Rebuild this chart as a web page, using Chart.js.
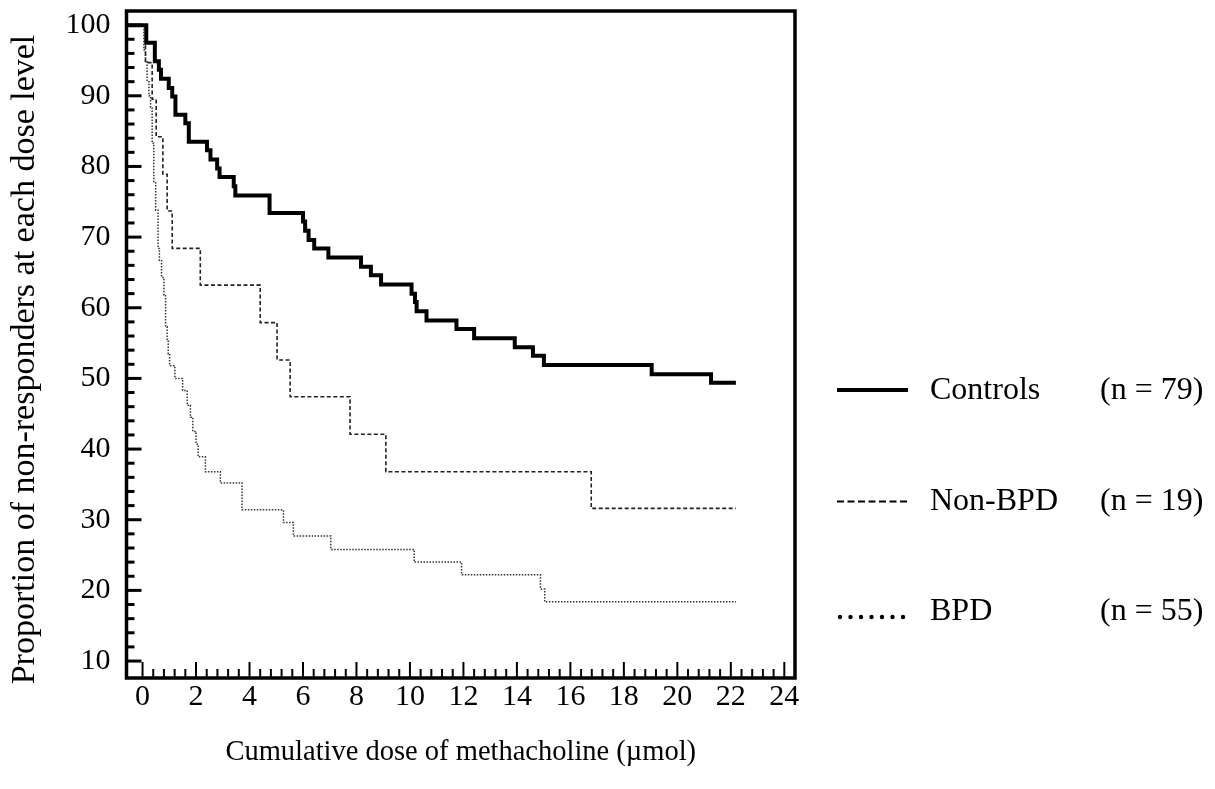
<!DOCTYPE html>
<html>
<head>
<meta charset="utf-8">
<script src="https://cdn.jsdelivr.net/npm/chart.js@4.4.1/dist/chart.umd.min.js"></script>
<style>
  body { margin: 0; background: #fff; }
  #wrap { width: 1215px; height: 789px; }
</style>
</head>
<body>
<div id="wrap"><canvas id="km"></canvas></div>
<script>
  // cumulative dose (umol) at each step, and % non-responders after the step
  const controlsDose = [-0.6, 0.14, 0.46, 0.61, 0.69, 0.98, 1.11, 1.23, 1.60, 1.73, 2.41, 2.54, 2.79, 2.88, 3.41, 3.47, 4.75, 6.00, 6.08, 6.21, 6.42, 6.95, 8.17, 8.54, 8.92, 10.06, 10.19, 10.25, 10.62, 11.74, 12.40, 13.92, 14.60, 15.01, 19.04, 21.26, 22.19];
  const controlsPct = [100, 97.5, 94.9, 93.7, 92.4, 91.1, 89.9, 87.3, 86.1, 83.5, 82.3, 81.0, 79.7, 78.5, 77.2, 75.9, 73.4, 72.2, 70.9, 69.6, 68.4, 67.1, 65.8, 64.6, 63.3, 62.0, 60.8, 59.5, 58.2, 57.0, 55.7, 54.4, 53.2, 51.9, 50.6, 49.4, 49.4];

  const nonBpdDose = [-0.6, 0.11, 0.36, 0.51, 0.76, 0.92, 1.11, 2.16, 4.40, 5.03, 5.52, 7.76, 9.10, 16.78, 22.19];
  const nonBpdPct = [100, 94.7, 89.5, 84.2, 78.9, 73.7, 68.4, 63.2, 57.9, 52.6, 47.4, 42.1, 36.8, 31.6, 31.6];

  const bpdDose = [-0.6, 0.05, 0.11, 0.17, 0.24, 0.30, 0.36, 0.42, 0.49, 0.58, 0.63, 0.71, 0.80, 0.86, 0.92, 0.96, 1.01, 1.21, 1.50, 1.67, 1.79, 1.88, 2.00, 2.08, 2.35, 2.91, 3.72, 5.27, 5.64, 7.04, 10.16, 11.93, 14.88, 15.04, 22.19];
  const bpdPct = [100, 96.5, 94.8, 92.0, 90.0, 88.4, 83.3, 77.7, 73.8, 68.4, 66.7, 64.3, 61.8, 57.3, 55.4, 53.5, 51.8, 50.0, 48.3, 46.2, 44.5, 42.5, 40.7, 38.9, 36.8, 35.2, 31.4, 29.6, 27.7, 25.8, 24.0, 22.2, 20.2, 18.4, 18.4];

  const xTickValues = [0, 2, 4, 6, 8, 10, 12, 14, 16, 18, 20, 22, 24];
  const yTickValues = [10, 20, 30, 40, 50, 60, 70, 80, 90, 100];

  const legendNames = ['Controls', 'Non-BPD', 'BPD'];
  const legendCounts = ['(n = 79)', '(n = 19)', '(n = 55)'];

  const xTitle = 'Cumulative dose of methacholine (\u00b5mol)';
  const yTitle = 'Proportion of non-responders at each dose level';

  const serif = "'Liberation Serif', 'Times New Roman', serif";

  const toPoints = (xs, ys) => xs.map((x, i) => ({ x: x, y: ys[i] }));

  // frame, inward ticks, y title and legend
  const framePlugin = {
    id: 'frame',
    afterDatasetsDraw(chart) {
      const ctx = chart.ctx;
      const area = chart.chartArea;
      const xs = chart.scales.x;
      const ys = chart.scales.y;
      ctx.save();
      ctx.strokeStyle = '#000';
      ctx.lineCap = 'butt';

      // y ticks every 2, long every 10
      ctx.lineWidth = 3;
      for (let v = 10; v <= 100; v += 2) {
        const py = ys.getPixelForValue(v);
        const len = v % 10 === 0 ? 15 : 8;
        ctx.beginPath();
        ctx.moveTo(area.left, py);
        ctx.lineTo(area.left + len, py);
        ctx.stroke();
      }
      // x ticks every 0.4, long every 2
      ctx.lineWidth = 2;
      for (let i = 0; i <= 60; i++) {
        const px = xs.getPixelForValue(i * 0.4);
        const len = i % 5 === 0 ? 16 : 9;
        ctx.beginPath();
        ctx.moveTo(px, area.bottom);
        ctx.lineTo(px, area.bottom - len);
        ctx.stroke();
      }
      ctx.lineWidth = 3.5;
      ctx.strokeRect(area.left, area.top, area.right - area.left, area.bottom - area.top);

      // y axis title
      ctx.fillStyle = '#000';
      ctx.font = '34px ' + serif;
      ctx.textAlign = 'center';
      ctx.textBaseline = 'middle';
      ctx.translate(25, (area.top + area.bottom) / 2 + 15);
      ctx.rotate(-Math.PI / 2);
      ctx.fillText(yTitle, 0, 0);
      ctx.restore();

      // legend
      ctx.save();
      const x0 = area.right + 42;
      const x1 = area.right + 113;
      ctx.font = '32px ' + serif;
      ctx.fillStyle = '#000';
      ctx.textAlign = 'left';
      ctx.textBaseline = 'alphabetic';
      legendNames.forEach((name, i) => {
        const base = 399 + i * 110.5;
        ctx.fillText(name, area.right + 135, base);
        ctx.fillText(legendCounts[i], area.right + 305, base);
        ctx.strokeStyle = '#000';
        if (i === 0) {
          ctx.lineWidth = 4;
          ctx.setLineDash([]);
          ctx.beginPath();
          ctx.moveTo(x0, base - 9);
          ctx.lineTo(x1, base - 9);
          ctx.stroke();
        } else if (i === 1) {
          ctx.lineWidth = 2;
          ctx.setLineDash([7, 3.5]);
          ctx.beginPath();
          ctx.moveTo(x0, base - 8);
          ctx.lineTo(x1, base - 8);
          ctx.stroke();
        } else {
          ctx.setLineDash([]);
          for (let k = 0; k < 7; k++) {
            ctx.beginPath();
            ctx.arc(x0 + 3 + k * 10.5, base - 3, 2.2, 0, Math.PI * 2);
            ctx.fill();
          }
        }
      });
      ctx.restore();
    }
  };

  const ctx = document.getElementById('km').getContext('2d');

  new Chart(ctx, {
    type: 'line',
    data: {
      datasets: [
        {
          label: 'Controls',
          data: toPoints(controlsDose, controlsPct),
          borderColor: '#000',
          borderWidth: 4,
          stepped: true,
          pointRadius: 0
        },
        {
          label: 'Non-BPD',
          data: toPoints(nonBpdDose, nonBpdPct),
          borderColor: '#222',
          borderWidth: 1.6,
          borderDash: [4, 2.5],
          stepped: true,
          pointRadius: 0
        },
        {
          label: 'BPD',
          data: toPoints(bpdDose, bpdPct),
          borderColor: '#333',
          borderWidth: 1.5,
          borderDash: [1.5, 1.5],
          stepped: true,
          pointRadius: 0
        }
      ]
    },
    options: {
      responsive: true,
      maintainAspectRatio: false,
      animation: false,
      layout: { padding: { left: 0, right: 420, top: 11, bottom: 0 } },
      plugins: {
        legend: { display: false },
        tooltip: { enabled: false }
      },
      scales: {
        x: {
          type: 'linear',
          min: -0.6,
          max: 24.4,
          afterBuildTicks: (s) => { s.ticks = xTickValues.map((v) => ({ value: v })); },
          afterFit: (s) => { s.height = 111; s.paddingLeft = 0; s.paddingRight = 0; },
          grid: { display: false },
          border: { display: false },
          ticks: {
            autoSkip: false,
            maxRotation: 0,
            padding: -7,
            color: '#000',
            font: { family: serif, size: 30 }
          },
          title: {
            display: true,
            text: xTitle,
            color: '#000',
            font: { family: serif, size: 28.5 },
            padding: { top: 0, bottom: 19 }
          }
        },
        y: {
          min: 7.6,
          max: 102,
          afterBuildTicks: (s) => { s.ticks = yTickValues.map((v) => ({ value: v })); },
          afterFit: (s) => { s.width = 126.5; s.paddingTop = 0; s.paddingBottom = 0; },
          grid: { display: false },
          border: { display: false },
          ticks: {
            padding: 8,
            color: '#000',
            font: { family: serif, size: 30 }
          }
        }
      }
    },
    plugins: [framePlugin]
  });
</script>
</body>
</html>
